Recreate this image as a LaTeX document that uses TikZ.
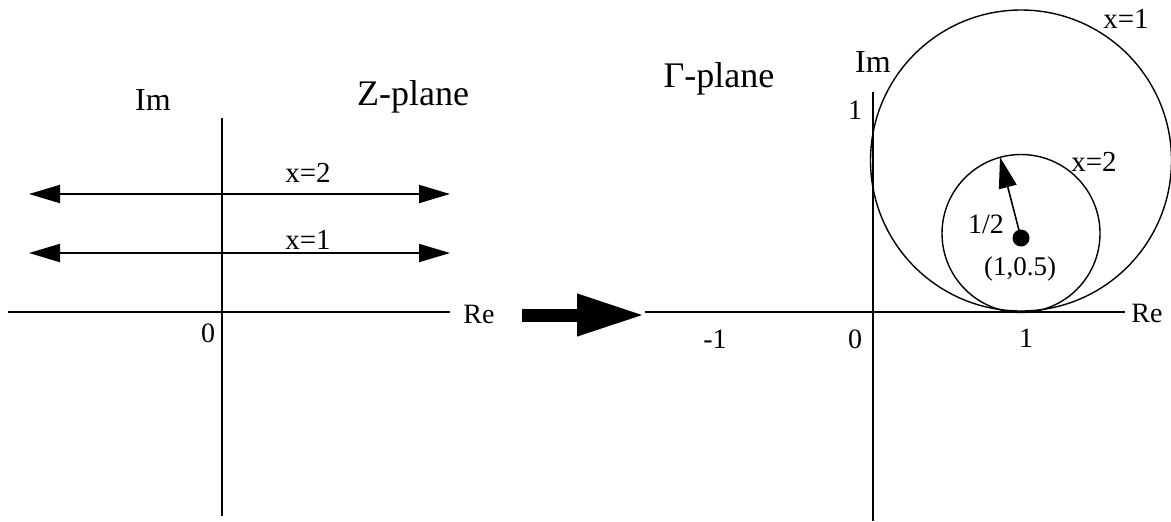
\documentclass[tikz,border=0pt]{standalone}
\usepackage{fontspec}
\setmainfont{Liberation Serif}
\usetikzlibrary{arrows.meta}
\begin{document}
\begin{tikzpicture}[x=0.5pt,y=-0.5pt,
  axis/.style={line width=0.7pt},
  lbl/.style={inner sep=0pt,font=\fontsize{14}{16}\selectfont},
  imlbl/.style={inner sep=0pt,font=\fontsize{16}{18}\selectfont},
  small/.style={inner sep=0pt,font=\fontsize{14.5}{16}\selectfont},
  title/.style={inner sep=0pt,anchor=base,font=\fontsize{18}{20}\selectfont},
  dbl/.style={line width=1pt,{Triangle[length=15.5pt,width=9pt]}-{Triangle[length=15.5pt,width=9pt]}},
  circ/.style={line width=0.7pt},
  radarrow/.style={line width=0.8pt,-{Triangle[length=15.5pt,width=9pt]}},
  maparrow/.style={line width=6.5pt,-{Triangle[length=34pt,width=19.5pt]}}]
\useasboundingbox (0,0) rectangle (1171,521);
% ---------- Z-plane ----------
\coordinate (zimT) at (222,118);
\coordinate (zimB) at (222,516);
\coordinate (zreL) at (8,312);
\coordinate (zreR) at (450,312);
\draw[axis] (zimT) -- (zimB);
\draw[axis] (zreL) -- (zreR);
\node[imlbl] (zim) at (153,100) {Im};
\node[title] (zplane) at (413,105) {Z-plane};
\node[lbl] (zre) at (479,314) {Re};
\node[lbl] (zzero) at (208,333) {0};
\coordinate (a2L) at (29,194);
\coordinate (a2R) at (450,194);
\coordinate (a1L) at (29,253);
\coordinate (a1R) at (450,253);
\draw[dbl] (a2L) -- (a2R);
\draw[dbl] (a1L) -- (a1R);
\node[small] (zx2) at (308,173) {x=2};
\node[small] (zx1) at (308,239.5) {x=1};
% ---------- mapping arrow ----------
\coordinate (mapA) at (522,315);
\coordinate (mapB) at (645,315);
\draw[maparrow] (mapA) -- (mapB);
% ---------- Gamma-plane ----------
\coordinate (gimT) at (873,92);
\coordinate (gimB) at (873,521);
\coordinate (greL) at (645,312);
\coordinate (greR) at (1125,312);
\draw[axis] (gimT) -- (gimB);
\draw[axis] (greL) -- (greR);
\node[imlbl] (gim) at (873,62) {Im};
\node[lbl] (gyone) at (855,110) {1};
\node[title] (gplane) at (719,87) {Γ-plane};
\node[lbl] (gmone) at (715,339) {-1};
\node[lbl] (gzero) at (855,339) {0};
\node[lbl] (gone) at (1026,338) {1};
\node[lbl] (gre) at (1147,313) {Re};
\draw[circ] (1021,160.5) circle[radius=75.25pt];
\draw[circ] (1021,233.5) circle[radius=39.5pt];
\node[circle,fill,inner sep=0pt,minimum size=8.5pt] (dot) at (1021,238) {};
\coordinate (rtip) at (1000,157);
\draw[radarrow] (dot.center) -- (rtip);
\node[lbl] (half) at (986,224) {1/2};
\node[small,font=\fontsize{13.5}{15}\selectfont] (cen) at (1020,269) {(1,0.5)};
\node[small] (gx2) at (1094,162) {x=2};
\node[small] (gx1) at (1126,19) {x=1};
\end{tikzpicture}
\end{document}
